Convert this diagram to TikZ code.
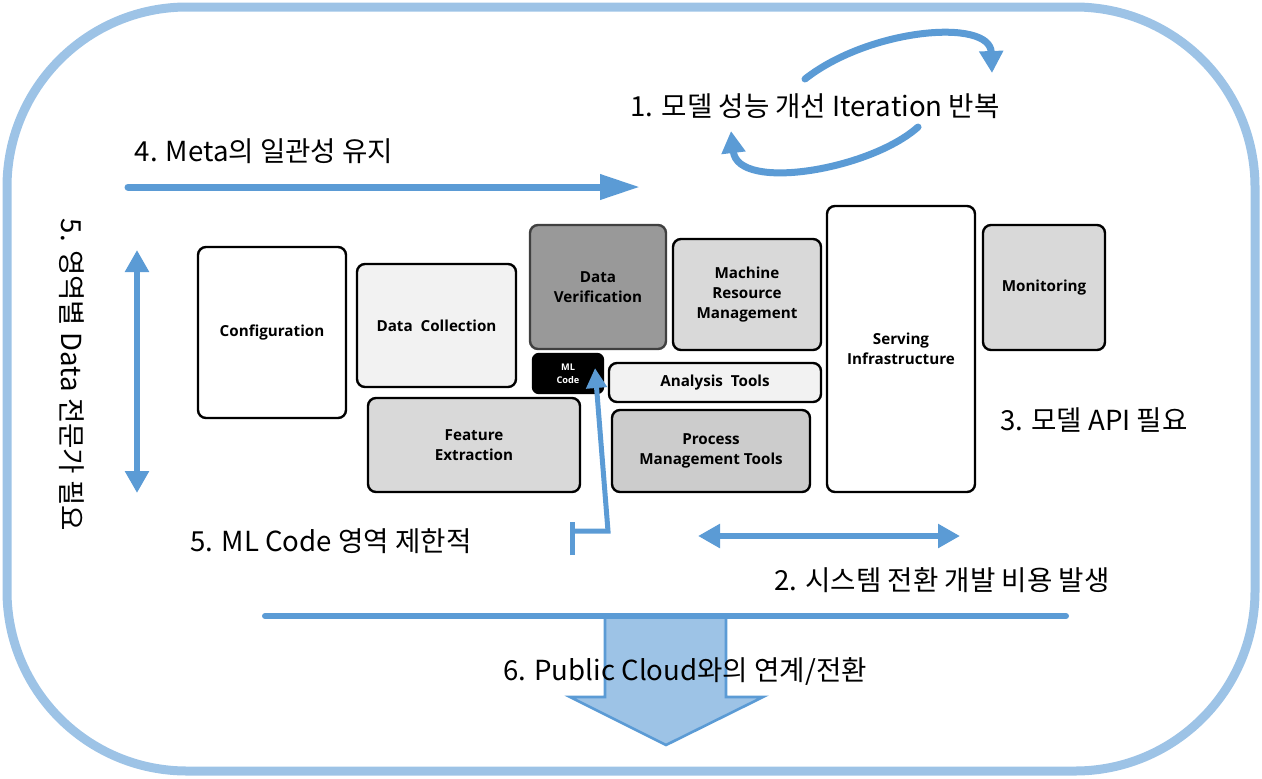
\documentclass[tikz,border=0pt]{standalone}
\usepackage{fontspec}
\setmainfont{Noto Sans CJK KR}
\newfontfamily\lab{Open Sans}
\usetikzlibrary{arrows.meta}
\definecolor{ablue}{HTML}{5B9BD5}
\definecolor{lblue}{HTML}{9DC3E6}
\begin{document}
\begin{tikzpicture}[x=0.5pt,y=-0.5pt,
  box/.style={draw=black, line width=1.2pt, rounded corners=4pt, align=center, inner sep=0pt,
    font=\lab\bfseries\fontsize{7.6}{9.8}\selectfont},
  lbl/.style={font=\fontsize{13.8}{16}\selectfont, inner sep=0pt},
  barrow/.style={draw=ablue, line width=3pt, -{Triangle[length=11pt,width=11.5pt]}},
  darrow/.style={draw=ablue, line width=3pt, {Triangle[length=11pt,width=11.5pt]}-{Triangle[length=11pt,width=11.5pt]}}
]
\useasboundingbox (0,0) rectangle (1262,778);
% outer frame
\draw[lblue, line width=4.5pt, rounded corners=90pt] (7,7) rectangle (1255,771);

% boxes
\node[box, fill=white, minimum width=74pt, minimum height=85.5pt] (conf) at (272,332.5) {Configuration};
\node[box, fill=black!5, minimum width=79.5pt, minimum height=61.5pt] (dcol) at (436.5,325.5) {Data\ \ Collection};
\node[box, fill=black!40, draw=black!75, minimum width=68pt, minimum height=62pt] (dver) at (598,287) {Data\\Verification};
\node[box, fill=black!15, minimum width=74pt, minimum height=55.5pt] (mrm) at (747,294.5) {Machine\\Resource\\Management};
\node[box, fill=black, text=white, minimum width=35pt, minimum height=19.5pt, rounded corners=3pt,
  font=\lab\bfseries\fontsize{4.6}{6.5}\selectfont] (ml) at (568,373.5) {ML\\Code};
\node[box, fill=black!5, minimum width=106pt, minimum height=19.5pt] (ana) at (715,382.5) {Analysis\ \ Tools};
\node[box, fill=black!15, minimum width=106pt, minimum height=47pt] (fe) at (474,445) {Feature\\Extraction};
\node[box, fill=black!20, minimum width=99pt, minimum height=41pt] (pmt) at (711,451) {Process\\Management Tools};
\node[box, fill=white, minimum width=74pt, minimum height=143pt] (serv) at (901,349) {Serving\\Infrastructure};
\node[box, fill=black!15, minimum width=61pt, minimum height=62.5pt] (mon) at (1044,287.5) {Monitoring};

% texts
\node[lbl] (t1) at (815,106) {1. 모델 성능 개선 Iteration 반복};
\node[lbl] (t4) at (264,151) {4. Meta의 일관성 유지};
\node[lbl, rotate=-90] (t5a) at (72,375) {5. 영역별 Data 전문가 필요};
\node[lbl] (t5b) at (331,541) {5. ML Code 영역 제한적};
\node[lbl] (t3) at (1094,420) {3. 모델 API 필요};
\node[lbl] (t2) at (942,580) {2. 시스템 전환 개발 비용 발생};

% loop arrows
\coordinate (la1) at (805,79);
\coordinate (la2) at (992,73);
\coordinate (lb1) at (918,127);
\coordinate (lb2) at (731,131);
\draw[barrow, line width=3.5pt, line cap=round] (la1) .. controls (870,28) and (990,18) .. (la2);
\draw[barrow, line width=3.5pt, line cap=round] (lb1) .. controls (870,170) and (738,192) .. (lb2);

% arrow 4
\coordinate (a4s) at (128,187);
\coordinate (a4e) at (640,187);
\draw[draw=ablue, line width=3.5pt, line cap=round, -{Triangle[length=20pt,width=12pt]}] (a4s) -- (a4e);

% arrow 5 vertical
\coordinate (a5s) at (137,250);
\coordinate (a5e) at (137,493);
\draw[darrow] (a5s) -- (a5e);

% arrow 2
\coordinate (a2s) at (698,536);
\coordinate (a2e) at (960,536);
\draw[darrow] (a2s) -- (a2e);

% ML code pointer
\coordinate (mp1) at (572,555);
\coordinate (mp2) at (572,522);
\coordinate (mp3) at (572,531);
\coordinate (mp4) at (608,531);
\coordinate (mp5) at (595,368);
\draw[ablue, line width=2.5pt] (mp1) -- (mp2);
\draw[ablue, line width=2.5pt, -{Triangle[length=10pt,width=10pt]}] (mp3) -- (mp4) -- (mp5);

% big down arrow
\draw[fill=lblue, draw=ablue, line width=1.3pt] (605,616) -- (726,616) -- (726,697) -- (763,697) -- (666,745) -- (570,697) -- (605,697) -- cycle;
\coordinate (hl1) at (265,616);
\coordinate (hl2) at (1066,616);
\draw[ablue, line width=3pt, line cap=round] (hl1) -- (hl2);
\node[lbl] (t6) at (685,671) {6. Public Cloud와의 연계/전환};
\end{tikzpicture}
\end{document}
